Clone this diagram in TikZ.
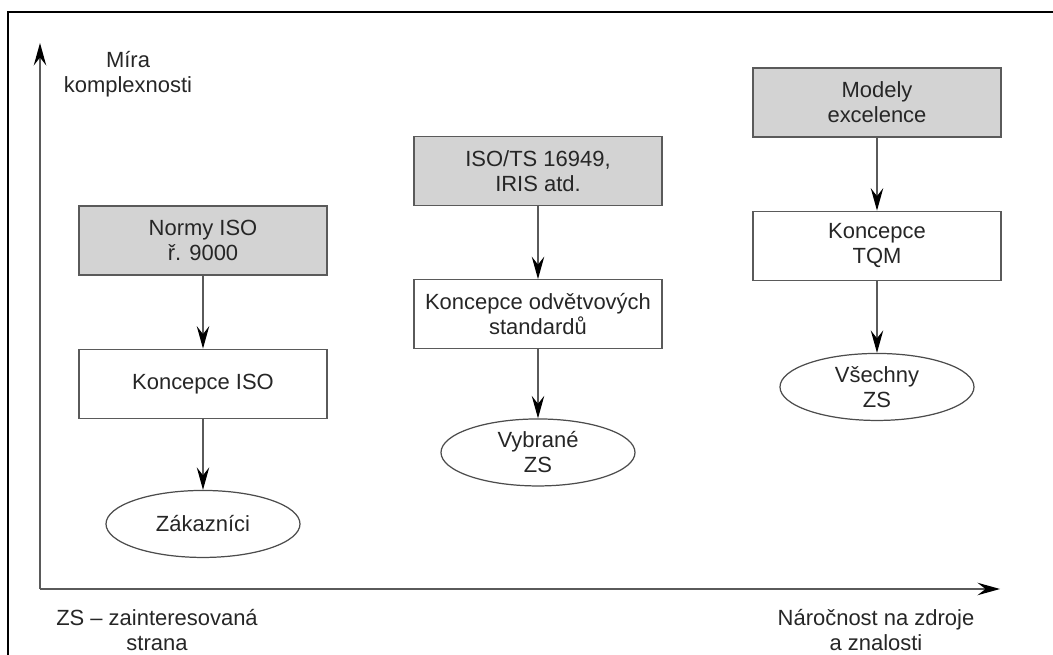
\documentclass[tikz,border=0pt]{standalone}
\usepackage{fontspec}
\setmainfont{Liberation Sans}
\usepackage{tikz}
\usetikzlibrary{arrows.meta,positioning,shapes.geometric}
\definecolor{qmgray}{HTML}{D3D3D3}
\definecolor{qmline}{HTML}{5A5A5A}

\begin{document}
\begin{tikzpicture}[font=\fontsize{12.5}{14.2}\selectfont,text=black!85,
  bx/.style={rectangle,draw=qmline,line width=0.7pt,minimum width=4.96cm,
    minimum height=1.38cm,align=center,inner sep=2pt},
  nb/.style={bx,fill=qmgray},
  zs/.style={ellipse,draw=black!70,line width=0.7pt,minimum width=3.88cm,
    minimum height=1.34cm,inner sep=0pt,align=center},
  ar/.style={draw=qmline,line width=0.7pt,
    -{Stealth[black,length=4.5mm,width=2.5mm,inset=1.6mm]}}]
  \useasboundingbox (-0.8,-1.32) rectangle (20.26,11.78);
  \draw[line width=1.1pt] (21,11.54) -| (-0.64,-2);
  % axes
  \coordinate (o) at (0,0);
  \coordinate (ytop) at (0,10.92);
  \coordinate (xend) at (19.2,0);
  \draw[ar] (o) -- (ytop);
  \draw[ar] (o) -- (xend);
  \node[align=center] (ylab) at (1.76,10.3) {Míra\\komplexnosti};
  \node[align=center] (zslab) at (2.34,-0.82) {ZS – zainteresovaná\\strana};
  \node[align=center] (xlab) at (16.72,-0.82) {Náročnost na zdroje\\a znalosti};
  % standards
  \node[nb] (n1) at (3.26,6.97) {Normy ISO\\ř. 9000};
  \node[nb] (n2) at (9.96,8.36) {ISO/TS 16949,\\IRIS atd.};
  \node[nb] (n3) at (16.74,9.73) {Modely\\excelence};
  % concepts
  \node[bx,below=1.46cm of n1] (k1) {Koncepce ISO};
  \node[bx,below=1.46cm of n2] (k2) {Koncepce odvětvových\\standardů};
  \node[bx,below=1.46cm of n3] (k3) {Koncepce\\TQM};
  % stakeholders
  \node[zs,below=1.42cm of k1] (z1) {Zákazníci};
  \node[zs,below=1.38cm of k2] (z2) {Vybrané\\ZS};
  \node[zs,below=1.44cm of k3] (z3) {Všechny\\ZS};
  \foreach \i in {1,2,3} {
    \draw[ar] (n\i) -- (k\i);
    \draw[ar] (k\i) -- (z\i);
  }
\end{tikzpicture}
\end{document}
